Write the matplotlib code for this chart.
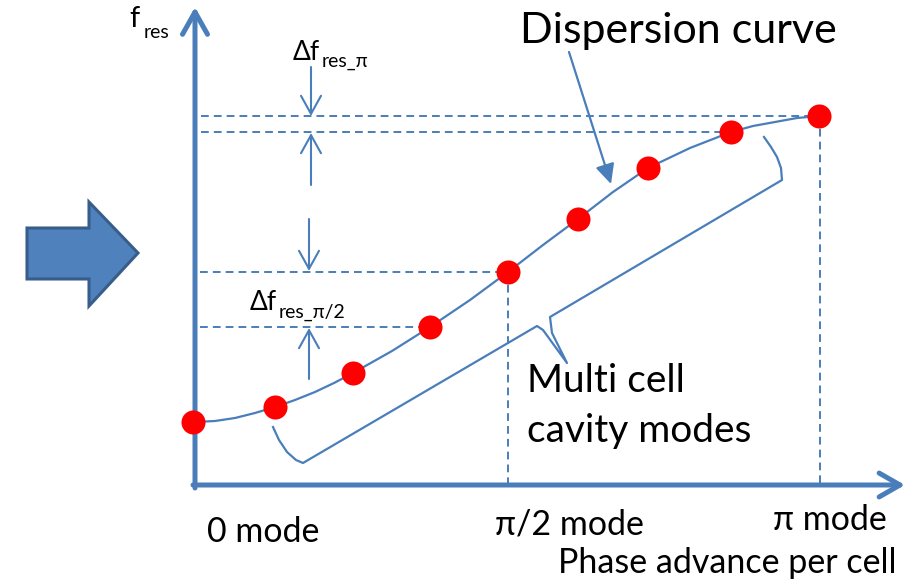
import numpy as np
import matplotlib
matplotlib.use("Agg")
import matplotlib.pyplot as plt
from matplotlib.patches import FancyArrowPatch, Polygon

plt.rcParams['font.family'] = ['Lato', 'DejaVu Sans']

# resonant modes of the multi cell cavity (x: phase advance, y: frequency; picture units)
mode_x = [193, 275, 353, 430, 508, 578, 648, 731, 819]
mode_y = [422, 407, 373, 327, 272, 219, 168, 132, 116]

# dispersion curve
curve_x = [195, 215, 235, 255, 275, 295, 315, 334, 353, 392, 430, 470, 508, 543, 578, 613, 648, 690, 731, 753, 775, 797, 819]
curve_y = [422, 421, 418, 413, 407, 400, 392, 383, 373, 351, 327, 300, 272, 245, 219, 192, 168, 148, 132, 126, 122, 118, 116]

mode_labels = ['0 mode', 'π/2 mode', 'π mode']

BLUE = '#4a7ebb'

fig = plt.figure(figsize=(9.07, 5.87), dpi=100)
ax = fig.add_axes([0, 0, 1, 1])
ax.set_xlim(0, 907)
ax.set_ylim(587, 0)
ax.axis('off')


def arrow(p0, p1, style, lw, color=BLUE, z=3):
    a = FancyArrowPatch(p0, p1, arrowstyle=style, mutation_scale=1, lw=lw,
                        color=color, shrinkA=0, shrinkB=0, capstyle='round',
                        joinstyle='round', zorder=z)
    ax.add_patch(a)


# axes
arrow((195, 488), (195, 7), '->,head_length=16,head_width=9', 3.6)
arrow((193, 485), (905, 485), '->,head_length=15,head_width=8.6', 3.6)

# dashed guide lines
dash = (0, (4, 2.6))
ax.plot([201, mode_x[8]], [mode_y[8], mode_y[8]], color=BLUE, lw=1.4, ls=dash)
ax.plot([201, mode_x[7]], [mode_y[7], mode_y[7]], color=BLUE, lw=1.4, ls=dash)
ax.plot([200, mode_x[4]], [mode_y[4], mode_y[4]], color=BLUE, lw=1.4, ls=dash)
ax.plot([200, mode_x[3]], [mode_y[3], mode_y[3]], color=BLUE, lw=1.4, ls=dash)
ax.plot([mode_x[4], mode_x[4]], [mode_y[4], 483], color=BLUE, lw=1.4, ls=dash)
ax.plot([mode_x[8] + 1, mode_x[8] + 1], [mode_y[8], 483], color=BLUE, lw=1.4, ls=dash)

# delta f arrows
thin = '->,head_length=13,head_width=7.2'
arrow((311, 67), (311, 116), thin, 1.5)
arrow((311, 185), (311, 133), thin, 1.5)
arrow((309, 219), (309, 271), thin, 1.5)
arrow((309, 379), (309, 328), thin, 1.5)

# dispersion curve and modes
ax.plot(curve_x, curve_y, color=BLUE, lw=1.6, zorder=4, solid_joinstyle='round')
ax.scatter(mode_x, mode_y, s=300, color='#ff0000', zorder=5, linewidths=0)

# braces
ax.plot([273, 279, 287, 296, 303, 537, 543, 567, 552, 550, 782, 781, 777, 771, 764],
        [427, 440, 452, 460, 463, 326, 330, 363, 333, 317, 180, 168, 157, 147, 137],
        color=BLUE, lw=1.6, solid_joinstyle='round', zorder=3)

# pointer to the curve
arrow((569, 52), (611, 184), '-|>,head_length=12,head_width=5.8', 1.6)

# big block arrow on the left
ax.add_patch(Polygon([(27, 228), (89, 228), (89, 202), (138, 253), (89, 306), (89, 279), (27, 279)],
                     closed=True, facecolor='#4f81bd', edgecolor='#385d8a', lw=2.2, joinstyle='miter'))

# texts
ax.text(520, 43, 'Dispersion curve', fontsize=31, va='baseline')
ax.text(527, 392, 'Multi cell', fontsize=28, va='baseline')
ax.text(527, 442, 'cavity modes', fontsize=28, va='baseline')
ax.text(207, 542, mode_labels[0], fontsize=24.5, va='baseline')
ax.text(495, 535, mode_labels[1], fontsize=24.5, va='baseline')
ax.text(773, 530, mode_labels[2], fontsize=24.5, va='baseline')
ax.text(558, 573, 'Phase advance per cell', fontsize=24.5, va='baseline')

ax.text(129, 27, 'f', fontsize=21, va='baseline')
ax.text(144, 38, 'res', fontsize=14, va='baseline')

ax.text(293, 60, 'Δf', fontsize=19, va='baseline')
ax.text(322, 67, 'res_π', fontsize=14, va='baseline')
ax.text(250, 310, 'Δf', fontsize=19, va='baseline')
ax.text(279, 318, 'res_π/2', fontsize=14, va='baseline')

fig.savefig('out.png', dpi=100)
